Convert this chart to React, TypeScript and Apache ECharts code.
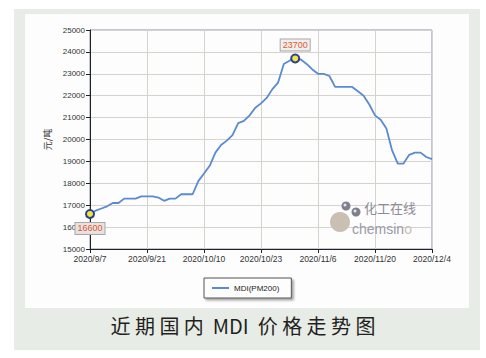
import React, { useEffect, useRef } from "react";
import * as echarts from "echarts";

const xLabels = [
  "2020/9/7", "", "", "", "", "", "", "", "", "",
  "2020/9/21", "", "", "", "", "", "", "", "", "",
  "2020/10/10", "", "", "", "", "", "", "", "", "",
  "2020/10/23", "", "", "", "", "", "", "", "", "",
  "2020/11/6", "", "", "", "", "", "", "", "", "",
  "2020/11/20", "", "", "", "", "", "", "", "", "",
  "2020/12/4",
];
const categories = xLabels.map((l, i) => (l ? l : "d" + i));

const mdiValues = [
  16600, 16750, 16850, 16950, 17100, 17100, 17300, 17300, 17300, 17400,
  17400, 17400, 17350, 17200, 17300, 17300, 17500, 17500, 17500, 18100,
  18450, 18800, 19400, 19750, 19950, 20200, 20750, 20850, 21100, 21450,
  21650, 21900, 22300, 22600, 23450, 23600, 23700, 23650, 23450, 23200,
  23000, 23000, 22900, 22400, 22400, 22400, 22400, 22200, 22000, 21600,
  21100, 20900, 20500, 19500, 18900, 18900, 19300, 19400, 19400, 19200,
  19100,
];

const highlightIdx = [0, 36];
const seriesName = "MDI(PM200)";
const yAxisName = "元/吨";
const titleText = "近 期 国 内  MDI  价 格 走 势 图";

export default function App() {
  const ref = useRef<HTMLDivElement>(null);
  useEffect(() => {
    if (!ref.current) return;
    const chart = echarts.init(ref.current, null, { renderer: "svg" });
    const data = mdiValues.map((v, i) => {
      if (!highlightIdx.includes(i)) return { value: v, symbol: "none" };
      return {
        value: v,
        symbol: "circle",
        symbolSize: 8,
        itemStyle: { color: "#f0e640", borderColor: "#2b3f8c", borderWidth: 2 },
        label: {
          show: true,
          position: i === 0 ? "bottom" : "top",
          distance: i === 0 ? 4 : 3,
          formatter: "{c}",
          color: "#e8562a",
          fontSize: 9,
          fontFamily: "Liberation Sans, Arial, sans-serif",
          backgroundColor: i === 0 ? "#e4e4e4" : "#efefef",
          borderColor: "#a8a8a8",
          borderWidth: 1,
          padding: [1, 2, 1, 2],
        },
      };
    });
    chart.setOption({
      animation: false,
      backgroundColor: "#ffffff",
      graphic: [
        { type: "rect", z: -20, silent: true, shape: { x: 14, y: 9, width: 466, height: 341 }, style: { fill: "#e8ece6" } },
        { type: "rect", z: -19, silent: true, shape: { x: 25, y: 14, width: 444, height: 294 }, style: { fill: "#fdfdfd" } },
        {
          type: "text", z: 5, left: "center", top: 315,
          style: { text: titleText, fontSize: 20, fill: "#231f20", fontFamily: "Noto Sans CJK SC, sans-serif" },
        },
        { type: "circle", z: 1, silent: true, shape: { cx: 340, cy: 222, r: 10 }, style: { fill: "#c9bfb3" } },
        { type: "circle", z: 1, silent: true, shape: { cx: 346, cy: 206, r: 4.5 }, style: { fill: "#7f7f8e" } },
        { type: "circle", z: 1, silent: true, shape: { cx: 356, cy: 212, r: 4.5 }, style: { fill: "#7f7f8e" } },
        { type: "circle", z: 1, silent: true, shape: { cx: 345, cy: 205, r: 1.5 }, style: { fill: "#e6e6ea" } },
        { type: "circle", z: 1, silent: true, shape: { cx: 355, cy: 211, r: 1.5 }, style: { fill: "#e6e6ea" } },
        {
          type: "text", z: 1, silent: true, x: 364, y: 207,
          style: { text: "化工在线", fontSize: 13, fill: "#8c8c98", verticalAlign: "middle", fontFamily: "Noto Sans CJK SC, sans-serif" },
        },
        {
          type: "text", z: 1, silent: true, x: 352, y: 229,
          style: {
            text: "{a|chemsin}{b|o}",
            verticalAlign: "middle",
            rich: {
              a: { fontSize: 14, fill: "#9a9aa8", color: "#9a9aa8", fontFamily: "Liberation Sans, Arial, sans-serif" },
              b: { fontSize: 14, fill: "#c9bfb3", color: "#c9bfb3", fontFamily: "Liberation Sans, Arial, sans-serif" },
            },
          },
        },
      ],
      grid: {
        left: 90, top: 30, right: 54, bottom: 109,
        show: true, backgroundColor: "#fdfdfd", borderColor: "#8a8db4", borderWidth: 1,
      },
      legend: {
        left: 204, top: 278,
        data: [{ name: seriesName, icon: "rect" }],
        itemWidth: 17, itemHeight: 2,
        padding: [6, 12, 6, 8],
        borderColor: "#555", borderWidth: 1,
        backgroundColor: "#fdfdfd",
        shadowColor: "rgba(0,0,0,0.35)", shadowOffsetX: 2, shadowOffsetY: 2, shadowBlur: 2,
        textStyle: { fontSize: 8, color: "#222", fontFamily: "Liberation Sans, Arial, sans-serif" },
      },
      xAxis: {
        type: "category",
        data: categories,
        boundaryGap: false,
        axisLine: { lineStyle: { color: "#222", width: 1 } },
        axisTick: { interval: 9, length: 4, lineStyle: { color: "#222" } },
        axisLabel: {
          interval: 9, margin: 5, fontSize: 8.5, color: "#333",
          fontFamily: "Liberation Sans, Arial, sans-serif",
          formatter: (v: string) => (v.startsWith("d") ? "" : v),
        },
        splitLine: { show: true, interval: 9, lineStyle: { color: "#d6d3ce", width: 1 } },
      },
      yAxis: {
        type: "value",
        min: 15000, max: 25000, interval: 1000,
        name: yAxisName,
        nameLocation: "middle",
        nameRotate: 90,
        nameGap: 36,
        nameTextStyle: { fontSize: 9, color: "#333", fontFamily: "Noto Sans CJK SC, sans-serif" },
        axisLine: { show: true, lineStyle: { color: "#222", width: 1 } },
        axisTick: { show: true, length: 4, lineStyle: { color: "#222" } },
        axisLabel: {
          margin: 5, fontSize: 8, color: "#333", fontFamily: "Liberation Sans, Arial, sans-serif",
          formatter: (v: number) => String(v),
        },
        splitLine: { show: true, lineStyle: { color: "#d6d3ce", width: 1 } },
      },
      series: [
        {
          name: seriesName,
          type: "line",
          data,
          symbol: "circle",
          showSymbol: true,
          showAllSymbol: true,
          smooth: false,
          lineStyle: { color: "#5a8ad2", width: 1.8 },
          itemStyle: { color: "#5a8ad2" },
        },
      ],
    });
    return () => chart.dispose();
  }, []);
  return <div ref={ref} style={{ position: "absolute", left: 0, top: 0, width: 486, height: 358 }} />;
}
